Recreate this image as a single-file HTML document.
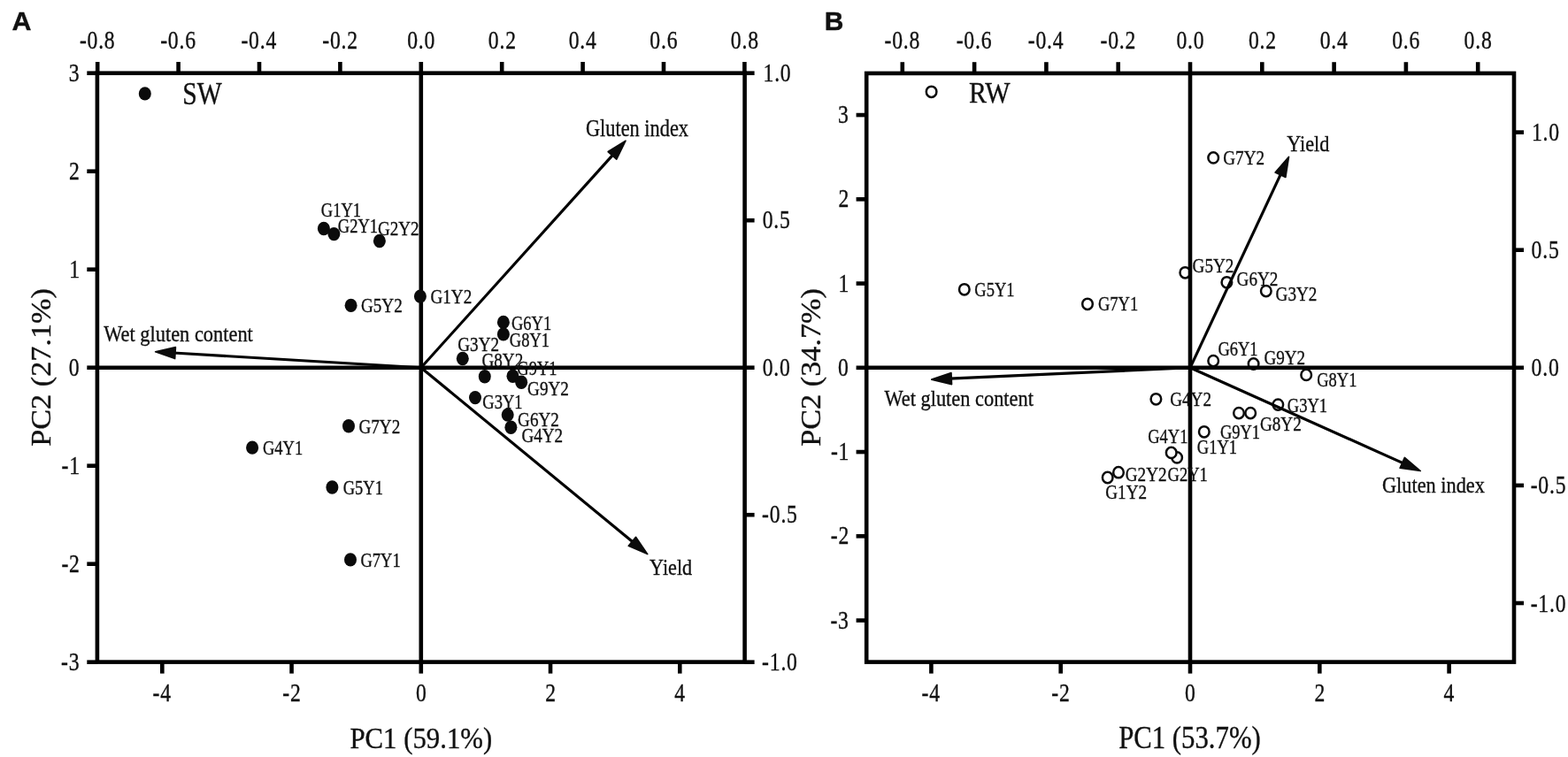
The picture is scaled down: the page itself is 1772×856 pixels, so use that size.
<!DOCTYPE html>
<html><head><meta charset="utf-8"><title>PCA biplots</title>
<style>html,body{margin:0;padding:0;background:#fff}svg{display:block}text{fill:#111;stroke:#111;stroke-width:0.35px}</style></head>
<body><svg width="1772" height="856" viewBox="0 0 1772 856">
<rect width="1772" height="856" fill="#fff"/>
<rect x="109.90" y="82.70" width="731.70" height="665.90" fill="none" stroke="#000" stroke-width="4.6"/>
<line x1="109.90" y1="415.70" x2="841.60" y2="415.70" stroke="#000" stroke-width="4.6" stroke-linecap="butt"/>
<line x1="475.80" y1="82.70" x2="475.80" y2="748.60" stroke="#000" stroke-width="4.6" stroke-linecap="butt"/>
<line x1="110.20" y1="82.70" x2="110.20" y2="70.00" stroke="#000" stroke-width="4.6" stroke-linecap="butt"/>
<line x1="201.60" y1="82.70" x2="201.60" y2="70.00" stroke="#000" stroke-width="4.6" stroke-linecap="butt"/>
<line x1="293.00" y1="82.70" x2="293.00" y2="70.00" stroke="#000" stroke-width="4.6" stroke-linecap="butt"/>
<line x1="384.40" y1="82.70" x2="384.40" y2="70.00" stroke="#000" stroke-width="4.6" stroke-linecap="butt"/>
<line x1="475.80" y1="82.70" x2="475.80" y2="70.00" stroke="#000" stroke-width="4.6" stroke-linecap="butt"/>
<line x1="567.20" y1="82.70" x2="567.20" y2="70.00" stroke="#000" stroke-width="4.6" stroke-linecap="butt"/>
<line x1="658.60" y1="82.70" x2="658.60" y2="70.00" stroke="#000" stroke-width="4.6" stroke-linecap="butt"/>
<line x1="750.00" y1="82.70" x2="750.00" y2="70.00" stroke="#000" stroke-width="4.6" stroke-linecap="butt"/>
<line x1="841.40" y1="82.70" x2="841.40" y2="70.00" stroke="#000" stroke-width="4.6" stroke-linecap="butt"/>
<line x1="183.32" y1="748.60" x2="183.32" y2="761.60" stroke="#000" stroke-width="4.6" stroke-linecap="butt"/>
<line x1="329.56" y1="748.60" x2="329.56" y2="761.60" stroke="#000" stroke-width="4.6" stroke-linecap="butt"/>
<line x1="475.80" y1="748.60" x2="475.80" y2="761.60" stroke="#000" stroke-width="4.6" stroke-linecap="butt"/>
<line x1="622.04" y1="748.60" x2="622.04" y2="761.60" stroke="#000" stroke-width="4.6" stroke-linecap="butt"/>
<line x1="768.28" y1="748.60" x2="768.28" y2="761.60" stroke="#000" stroke-width="4.6" stroke-linecap="butt"/>
<line x1="109.90" y1="82.70" x2="98.30" y2="82.70" stroke="#000" stroke-width="4.6" stroke-linecap="butt"/>
<line x1="109.90" y1="193.70" x2="98.30" y2="193.70" stroke="#000" stroke-width="4.6" stroke-linecap="butt"/>
<line x1="109.90" y1="304.70" x2="98.30" y2="304.70" stroke="#000" stroke-width="4.6" stroke-linecap="butt"/>
<line x1="109.90" y1="415.70" x2="98.30" y2="415.70" stroke="#000" stroke-width="4.6" stroke-linecap="butt"/>
<line x1="109.90" y1="526.70" x2="98.30" y2="526.70" stroke="#000" stroke-width="4.6" stroke-linecap="butt"/>
<line x1="109.90" y1="637.70" x2="98.30" y2="637.70" stroke="#000" stroke-width="4.6" stroke-linecap="butt"/>
<line x1="109.90" y1="748.70" x2="98.30" y2="748.70" stroke="#000" stroke-width="4.6" stroke-linecap="butt"/>
<line x1="841.60" y1="82.70" x2="852.60" y2="82.70" stroke="#000" stroke-width="4.6" stroke-linecap="butt"/>
<line x1="841.60" y1="249.20" x2="852.60" y2="249.20" stroke="#000" stroke-width="4.6" stroke-linecap="butt"/>
<line x1="841.60" y1="415.70" x2="852.60" y2="415.70" stroke="#000" stroke-width="4.6" stroke-linecap="butt"/>
<line x1="841.60" y1="582.20" x2="852.60" y2="582.20" stroke="#000" stroke-width="4.6" stroke-linecap="butt"/>
<line x1="841.60" y1="748.70" x2="852.60" y2="748.70" stroke="#000" stroke-width="4.6" stroke-linecap="butt"/>
<text transform="translate(89.89,54.81) scale(0.8200,1)" font-family="Liberation Serif, serif" font-size="28.89" letter-spacing="0.95">-0.8</text>
<text transform="translate(181.20,54.81) scale(0.8200,1)" font-family="Liberation Serif, serif" font-size="28.89" letter-spacing="0.95">-0.6</text>
<text transform="translate(272.42,54.81) scale(0.8200,1)" font-family="Liberation Serif, serif" font-size="28.89" letter-spacing="0.95">-0.4</text>
<text transform="translate(364.29,54.81) scale(0.8200,1)" font-family="Liberation Serif, serif" font-size="28.89" letter-spacing="0.95">-0.2</text>
<text transform="translate(460.22,54.81) scale(0.8200,1)" font-family="Liberation Serif, serif" font-size="28.89" letter-spacing="0.95">0.0</text>
<text transform="translate(551.82,54.81) scale(0.8200,1)" font-family="Liberation Serif, serif" font-size="28.89" letter-spacing="0.95">0.2</text>
<text transform="translate(642.75,54.81) scale(0.8200,1)" font-family="Liberation Serif, serif" font-size="28.89" letter-spacing="0.95">0.4</text>
<text transform="translate(734.33,54.81) scale(0.8200,1)" font-family="Liberation Serif, serif" font-size="28.89" letter-spacing="0.95">0.6</text>
<text transform="translate(825.82,54.81) scale(0.8200,1)" font-family="Liberation Serif, serif" font-size="28.89" letter-spacing="0.95">0.8</text>
<text transform="translate(172.50,792.81) scale(0.8200,1)" font-family="Liberation Serif, serif" font-size="28.89" letter-spacing="0.95">-4</text>
<text transform="translate(319.22,792.81) scale(0.8200,1)" font-family="Liberation Serif, serif" font-size="28.89" letter-spacing="0.95">-2</text>
<text transform="translate(469.88,792.81) scale(0.8200,1)" font-family="Liberation Serif, serif" font-size="28.89" letter-spacing="0.95">0</text>
<text transform="translate(616.27,792.81) scale(0.8200,1)" font-family="Liberation Serif, serif" font-size="28.89" letter-spacing="0.95">2</text>
<text transform="translate(762.30,792.81) scale(0.8200,1)" font-family="Liberation Serif, serif" font-size="28.89" letter-spacing="0.95">4</text>
<text transform="translate(77.70,91.86) scale(0.8200,1)" font-family="Liberation Serif, serif" font-size="28.89" letter-spacing="0.95">3</text>
<text transform="translate(78.06,202.86) scale(0.8200,1)" font-family="Liberation Serif, serif" font-size="28.89" letter-spacing="0.95">2</text>
<text transform="translate(78.18,313.86) scale(0.8200,1)" font-family="Liberation Serif, serif" font-size="28.89" letter-spacing="0.95">1</text>
<text transform="translate(77.64,424.86) scale(0.8200,1)" font-family="Liberation Serif, serif" font-size="28.89" letter-spacing="0.95">0</text>
<text transform="translate(69.52,535.86) scale(0.8200,1)" font-family="Liberation Serif, serif" font-size="28.89" letter-spacing="0.95">-1</text>
<text transform="translate(69.40,646.86) scale(0.8200,1)" font-family="Liberation Serif, serif" font-size="28.89" letter-spacing="0.95">-2</text>
<text transform="translate(69.05,757.86) scale(0.8200,1)" font-family="Liberation Serif, serif" font-size="28.89" letter-spacing="0.95">-3</text>
<text transform="translate(862.53,91.86) scale(0.8200,1)" font-family="Liberation Serif, serif" font-size="28.89" letter-spacing="0.95">1.0</text>
<text transform="translate(861.71,258.36) scale(0.8200,1)" font-family="Liberation Serif, serif" font-size="28.89" letter-spacing="0.95">0.5</text>
<text transform="translate(861.71,424.86) scale(0.8200,1)" font-family="Liberation Serif, serif" font-size="28.89" letter-spacing="0.95">0.0</text>
<text transform="translate(861.11,591.36) scale(0.8200,1)" font-family="Liberation Serif, serif" font-size="28.89" letter-spacing="0.95">-0.5</text>
<text transform="translate(861.11,757.86) scale(0.8200,1)" font-family="Liberation Serif, serif" font-size="28.89" letter-spacing="0.95">-1.0</text>
<line x1="475.80" y1="415.70" x2="693.30" y2="174.42" stroke="#000" stroke-width="3.15" stroke-linecap="butt"/>
<polygon points="707.03,159.19 696.79,180.25 687.14,171.55" fill="#0b0b0b" stroke="#0b0b0b" stroke-width="1.6" stroke-linejoin="round"/>
<line x1="475.80" y1="415.70" x2="196.06" y2="399.02" stroke="#000" stroke-width="3.15" stroke-linecap="butt"/>
<polygon points="175.60,397.80 198.44,392.65 197.67,405.62" fill="#0b0b0b" stroke="#0b0b0b" stroke-width="1.6" stroke-linejoin="round"/>
<line x1="475.80" y1="415.70" x2="715.94" y2="613.55" stroke="#000" stroke-width="3.15" stroke-linecap="butt"/>
<polygon points="731.77,626.58 710.27,617.29 718.53,607.26" fill="#0b0b0b" stroke="#0b0b0b" stroke-width="1.6" stroke-linejoin="round"/>
<ellipse cx="163.8" cy="105.9" rx="7.0" ry="7.7" fill="#0b0b0b"/>
<ellipse cx="365.9" cy="258.5" rx="7.0" ry="7.7" fill="#0b0b0b"/>
<ellipse cx="377.4" cy="264.6" rx="7.0" ry="7.7" fill="#0b0b0b"/>
<ellipse cx="428.9" cy="272.5" rx="7.0" ry="7.7" fill="#0b0b0b"/>
<ellipse cx="396.6" cy="345.4" rx="7.0" ry="7.7" fill="#0b0b0b"/>
<ellipse cx="474.9" cy="335.1" rx="7.0" ry="7.7" fill="#0b0b0b"/>
<ellipse cx="568.9" cy="364.4" rx="7.0" ry="7.7" fill="#0b0b0b"/>
<ellipse cx="568.9" cy="377.9" rx="7.0" ry="7.7" fill="#0b0b0b"/>
<ellipse cx="522.8" cy="405.5" rx="7.0" ry="7.7" fill="#0b0b0b"/>
<ellipse cx="547.8" cy="425.8" rx="7.0" ry="7.7" fill="#0b0b0b"/>
<ellipse cx="579.5" cy="425.2" rx="7.0" ry="7.7" fill="#0b0b0b"/>
<ellipse cx="589.2" cy="432.2" rx="7.0" ry="7.7" fill="#0b0b0b"/>
<ellipse cx="537" cy="449.6" rx="7.0" ry="7.7" fill="#0b0b0b"/>
<ellipse cx="573.7" cy="469.1" rx="7.0" ry="7.7" fill="#0b0b0b"/>
<ellipse cx="577.4" cy="483.2" rx="7.0" ry="7.7" fill="#0b0b0b"/>
<ellipse cx="394" cy="481.8" rx="7.0" ry="7.7" fill="#0b0b0b"/>
<ellipse cx="285.1" cy="506.1" rx="7.0" ry="7.7" fill="#0b0b0b"/>
<ellipse cx="375.4" cy="551" rx="7.0" ry="7.7" fill="#0b0b0b"/>
<ellipse cx="396" cy="632.9" rx="7.0" ry="7.7" fill="#0b0b0b"/>
<text transform="translate(362.81,244.72) scale(0.8135,1)" font-family="Liberation Serif, serif" font-size="22.75">G1Y1</text>
<text transform="translate(381.81,263.42) scale(0.8135,1)" font-family="Liberation Serif, serif" font-size="22.75">G2Y1</text>
<text transform="translate(426.88,265.72) scale(0.8417,1)" font-family="Liberation Serif, serif" font-size="22.75">G2Y2</text>
<text transform="translate(407.98,353.42) scale(0.8417,1)" font-family="Liberation Serif, serif" font-size="22.75">G5Y2</text>
<text transform="translate(486.48,343.22) scale(0.8417,1)" font-family="Liberation Serif, serif" font-size="22.75">G1Y2</text>
<text transform="translate(578.01,372.52) scale(0.8135,1)" font-family="Liberation Serif, serif" font-size="22.75">G6Y1</text>
<text transform="translate(575.81,391.52) scale(0.8135,1)" font-family="Liberation Serif, serif" font-size="22.75">G8Y1</text>
<text transform="translate(517.28,396.92) scale(0.8417,1)" font-family="Liberation Serif, serif" font-size="22.75">G3Y2</text>
<text transform="translate(544.48,414.62) scale(0.8417,1)" font-family="Liberation Serif, serif" font-size="22.75">G8Y2</text>
<text transform="translate(584.31,423.92) scale(0.8135,1)" font-family="Liberation Serif, serif" font-size="22.75">G9Y1</text>
<text transform="translate(596.08,447.32) scale(0.8417,1)" font-family="Liberation Serif, serif" font-size="22.75">G9Y2</text>
<text transform="translate(545.31,462.02) scale(0.8135,1)" font-family="Liberation Serif, serif" font-size="22.75">G3Y1</text>
<text transform="translate(585.08,481.52) scale(0.8417,1)" font-family="Liberation Serif, serif" font-size="22.75">G6Y2</text>
<text transform="translate(589.38,500.12) scale(0.8417,1)" font-family="Liberation Serif, serif" font-size="22.75">G4Y2</text>
<text transform="translate(405.48,490.02) scale(0.8417,1)" font-family="Liberation Serif, serif" font-size="22.75">G7Y2</text>
<text transform="translate(297.01,514.22) scale(0.8135,1)" font-family="Liberation Serif, serif" font-size="22.75">G4Y1</text>
<text transform="translate(387.71,558.92) scale(0.8135,1)" font-family="Liberation Serif, serif" font-size="22.75">G5Y1</text>
<text transform="translate(407.51,640.62) scale(0.8135,1)" font-family="Liberation Serif, serif" font-size="22.75">G7Y1</text>
<text transform="translate(206.30,117.55) scale(0.8521,1)" font-family="Liberation Serif, serif" font-size="34.80">SW</text>
<text transform="translate(661.91,154.10) scale(0.8227,1)" font-family="Liberation Serif, serif" font-size="27.19">Gluten index</text>
<text transform="translate(117.20,386.42) scale(0.8782,1)" font-family="Liberation Serif, serif" font-size="25.52">Wet gluten content</text>
<text transform="translate(734.08,649.60) scale(0.8474,1)" font-family="Liberation Serif, serif" font-size="26.19">Yield</text>
<text transform="translate(395.45,845.70) scale(0.9006,1)" font-family="Liberation Serif, serif" font-size="34.20">PC1 (59.1%)</text>
<text transform="translate(57.20,504.74) rotate(-90) scale(1.1047,1)" font-family="Liberation Serif, serif" font-size="30.99">PC2 (27.1%)</text>
<text transform="translate(13.44,34.10) scale(1.0261,1)" font-family="Liberation Sans, sans-serif" font-size="29.67" font-weight="bold">A</text>
<ellipse cx="1052.6" cy="103.8" rx="5.8" ry="6.15" fill="#fff" stroke="#0b0b0b" stroke-width="2.5"/>
<ellipse cx="1371.2" cy="178.4" rx="5.8" ry="6.15" fill="#fff" stroke="#0b0b0b" stroke-width="2.5"/>
<ellipse cx="1339.3" cy="308.3" rx="5.8" ry="6.15" fill="#fff" stroke="#0b0b0b" stroke-width="2.5"/>
<ellipse cx="1386.4" cy="319.3" rx="5.8" ry="6.15" fill="#fff" stroke="#0b0b0b" stroke-width="2.5"/>
<ellipse cx="1430.8" cy="329.1" rx="5.8" ry="6.15" fill="#fff" stroke="#0b0b0b" stroke-width="2.5"/>
<ellipse cx="1089.8" cy="327.3" rx="5.8" ry="6.15" fill="#fff" stroke="#0b0b0b" stroke-width="2.5"/>
<ellipse cx="1229" cy="343.8" rx="5.8" ry="6.15" fill="#fff" stroke="#0b0b0b" stroke-width="2.5"/>
<ellipse cx="1371.2" cy="408.1" rx="5.8" ry="6.15" fill="#fff" stroke="#0b0b0b" stroke-width="2.5"/>
<ellipse cx="1416.6" cy="411.5" rx="5.8" ry="6.15" fill="#fff" stroke="#0b0b0b" stroke-width="2.5"/>
<ellipse cx="1476.2" cy="423.9" rx="5.8" ry="6.15" fill="#fff" stroke="#0b0b0b" stroke-width="2.5"/>
<ellipse cx="1306.4" cy="451.3" rx="5.8" ry="6.15" fill="#fff" stroke="#0b0b0b" stroke-width="2.5"/>
<ellipse cx="1444.3" cy="457.6" rx="5.8" ry="6.15" fill="#fff" stroke="#0b0b0b" stroke-width="2.5"/>
<ellipse cx="1400" cy="467.1" rx="5.8" ry="6.15" fill="#fff" stroke="#0b0b0b" stroke-width="2.5"/>
<ellipse cx="1413.2" cy="467.1" rx="5.8" ry="6.15" fill="#fff" stroke="#0b0b0b" stroke-width="2.5"/>
<ellipse cx="1360.8" cy="488.3" rx="5.8" ry="6.15" fill="#fff" stroke="#0b0b0b" stroke-width="2.5"/>
<ellipse cx="1330.1" cy="517.4" rx="5.8" ry="6.15" fill="#fff" stroke="#0b0b0b" stroke-width="2.5"/>
<ellipse cx="1264" cy="534.2" rx="5.8" ry="6.15" fill="#fff" stroke="#0b0b0b" stroke-width="2.5"/>
<ellipse cx="1251.7" cy="540" rx="5.8" ry="6.15" fill="#fff" stroke="#0b0b0b" stroke-width="2.5"/>
<ellipse cx="1323.7" cy="511.9" rx="5.8" ry="6.15" fill="#fff" stroke="#0b0b0b" stroke-width="2.5"/>
<rect x="979.20" y="82.90" width="731.80" height="665.70" fill="none" stroke="#000" stroke-width="4.6"/>
<line x1="979.20" y1="415.80" x2="1711.00" y2="415.80" stroke="#000" stroke-width="4.6" stroke-linecap="butt"/>
<line x1="1345.00" y1="82.90" x2="1345.00" y2="748.60" stroke="#000" stroke-width="4.6" stroke-linecap="butt"/>
<line x1="1019.80" y1="82.90" x2="1019.80" y2="70.20" stroke="#000" stroke-width="4.6" stroke-linecap="butt"/>
<line x1="1101.10" y1="82.90" x2="1101.10" y2="70.20" stroke="#000" stroke-width="4.6" stroke-linecap="butt"/>
<line x1="1182.40" y1="82.90" x2="1182.40" y2="70.20" stroke="#000" stroke-width="4.6" stroke-linecap="butt"/>
<line x1="1263.70" y1="82.90" x2="1263.70" y2="70.20" stroke="#000" stroke-width="4.6" stroke-linecap="butt"/>
<line x1="1345.00" y1="82.90" x2="1345.00" y2="70.20" stroke="#000" stroke-width="4.6" stroke-linecap="butt"/>
<line x1="1426.30" y1="82.90" x2="1426.30" y2="70.20" stroke="#000" stroke-width="4.6" stroke-linecap="butt"/>
<line x1="1507.60" y1="82.90" x2="1507.60" y2="70.20" stroke="#000" stroke-width="4.6" stroke-linecap="butt"/>
<line x1="1588.90" y1="82.90" x2="1588.90" y2="70.20" stroke="#000" stroke-width="4.6" stroke-linecap="butt"/>
<line x1="1670.20" y1="82.90" x2="1670.20" y2="70.20" stroke="#000" stroke-width="4.6" stroke-linecap="butt"/>
<line x1="1052.40" y1="748.60" x2="1052.40" y2="761.60" stroke="#000" stroke-width="4.6" stroke-linecap="butt"/>
<line x1="1198.70" y1="748.60" x2="1198.70" y2="761.60" stroke="#000" stroke-width="4.6" stroke-linecap="butt"/>
<line x1="1345.00" y1="748.60" x2="1345.00" y2="761.60" stroke="#000" stroke-width="4.6" stroke-linecap="butt"/>
<line x1="1491.30" y1="748.60" x2="1491.30" y2="761.60" stroke="#000" stroke-width="4.6" stroke-linecap="butt"/>
<line x1="1637.60" y1="748.60" x2="1637.60" y2="761.60" stroke="#000" stroke-width="4.6" stroke-linecap="butt"/>
<line x1="979.20" y1="130.05" x2="967.60" y2="130.05" stroke="#000" stroke-width="4.6" stroke-linecap="butt"/>
<line x1="979.20" y1="225.30" x2="967.60" y2="225.30" stroke="#000" stroke-width="4.6" stroke-linecap="butt"/>
<line x1="979.20" y1="320.55" x2="967.60" y2="320.55" stroke="#000" stroke-width="4.6" stroke-linecap="butt"/>
<line x1="979.20" y1="415.80" x2="967.60" y2="415.80" stroke="#000" stroke-width="4.6" stroke-linecap="butt"/>
<line x1="979.20" y1="511.05" x2="967.60" y2="511.05" stroke="#000" stroke-width="4.6" stroke-linecap="butt"/>
<line x1="979.20" y1="606.30" x2="967.60" y2="606.30" stroke="#000" stroke-width="4.6" stroke-linecap="butt"/>
<line x1="979.20" y1="701.55" x2="967.60" y2="701.55" stroke="#000" stroke-width="4.6" stroke-linecap="butt"/>
<line x1="1711.00" y1="149.60" x2="1722.00" y2="149.60" stroke="#000" stroke-width="4.6" stroke-linecap="butt"/>
<line x1="1711.00" y1="282.70" x2="1722.00" y2="282.70" stroke="#000" stroke-width="4.6" stroke-linecap="butt"/>
<line x1="1711.00" y1="415.80" x2="1722.00" y2="415.80" stroke="#000" stroke-width="4.6" stroke-linecap="butt"/>
<line x1="1711.00" y1="548.90" x2="1722.00" y2="548.90" stroke="#000" stroke-width="4.6" stroke-linecap="butt"/>
<line x1="1711.00" y1="682.00" x2="1722.00" y2="682.00" stroke="#000" stroke-width="4.6" stroke-linecap="butt"/>
<text transform="translate(999.49,54.81) scale(0.8200,1)" font-family="Liberation Serif, serif" font-size="28.89" letter-spacing="0.95">-0.8</text>
<text transform="translate(1080.70,54.81) scale(0.8200,1)" font-family="Liberation Serif, serif" font-size="28.89" letter-spacing="0.95">-0.6</text>
<text transform="translate(1161.82,54.81) scale(0.8200,1)" font-family="Liberation Serif, serif" font-size="28.89" letter-spacing="0.95">-0.4</text>
<text transform="translate(1243.59,54.81) scale(0.8200,1)" font-family="Liberation Serif, serif" font-size="28.89" letter-spacing="0.95">-0.2</text>
<text transform="translate(1329.42,54.81) scale(0.8200,1)" font-family="Liberation Serif, serif" font-size="28.89" letter-spacing="0.95">0.0</text>
<text transform="translate(1410.92,54.81) scale(0.8200,1)" font-family="Liberation Serif, serif" font-size="28.89" letter-spacing="0.95">0.2</text>
<text transform="translate(1491.75,54.81) scale(0.8200,1)" font-family="Liberation Serif, serif" font-size="28.89" letter-spacing="0.95">0.4</text>
<text transform="translate(1573.23,54.81) scale(0.8200,1)" font-family="Liberation Serif, serif" font-size="28.89" letter-spacing="0.95">0.6</text>
<text transform="translate(1654.62,54.81) scale(0.8200,1)" font-family="Liberation Serif, serif" font-size="28.89" letter-spacing="0.95">0.8</text>
<text transform="translate(1041.58,792.81) scale(0.8200,1)" font-family="Liberation Serif, serif" font-size="28.89" letter-spacing="0.95">-4</text>
<text transform="translate(1188.36,792.81) scale(0.8200,1)" font-family="Liberation Serif, serif" font-size="28.89" letter-spacing="0.95">-2</text>
<text transform="translate(1339.08,792.81) scale(0.8200,1)" font-family="Liberation Serif, serif" font-size="28.89" letter-spacing="0.95">0</text>
<text transform="translate(1485.53,792.81) scale(0.8200,1)" font-family="Liberation Serif, serif" font-size="28.89" letter-spacing="0.95">2</text>
<text transform="translate(1631.62,792.81) scale(0.8200,1)" font-family="Liberation Serif, serif" font-size="28.89" letter-spacing="0.95">4</text>
<text transform="translate(947.10,139.21) scale(0.8200,1)" font-family="Liberation Serif, serif" font-size="28.89" letter-spacing="0.95">3</text>
<text transform="translate(947.46,234.46) scale(0.8200,1)" font-family="Liberation Serif, serif" font-size="28.89" letter-spacing="0.95">2</text>
<text transform="translate(947.58,329.71) scale(0.8200,1)" font-family="Liberation Serif, serif" font-size="28.89" letter-spacing="0.95">1</text>
<text transform="translate(947.04,424.96) scale(0.8200,1)" font-family="Liberation Serif, serif" font-size="28.89" letter-spacing="0.95">0</text>
<text transform="translate(938.92,520.21) scale(0.8200,1)" font-family="Liberation Serif, serif" font-size="28.89" letter-spacing="0.95">-1</text>
<text transform="translate(938.80,615.46) scale(0.8200,1)" font-family="Liberation Serif, serif" font-size="28.89" letter-spacing="0.95">-2</text>
<text transform="translate(938.45,710.71) scale(0.8200,1)" font-family="Liberation Serif, serif" font-size="28.89" letter-spacing="0.95">-3</text>
<text transform="translate(1730.93,159.16) scale(0.8200,1)" font-family="Liberation Serif, serif" font-size="28.89" letter-spacing="0.95">1.0</text>
<text transform="translate(1730.61,292.26) scale(0.8200,1)" font-family="Liberation Serif, serif" font-size="28.89" letter-spacing="0.95">0.5</text>
<text transform="translate(1730.61,425.36) scale(0.8200,1)" font-family="Liberation Serif, serif" font-size="28.89" letter-spacing="0.95">0.0</text>
<text transform="translate(1729.71,558.46) scale(0.8200,1)" font-family="Liberation Serif, serif" font-size="28.89" letter-spacing="0.95">-0.5</text>
<text transform="translate(1729.71,691.56) scale(0.8200,1)" font-family="Liberation Serif, serif" font-size="28.89" letter-spacing="0.95">-1.0</text>
<line x1="1345.00" y1="415.80" x2="1447.84" y2="195.92" stroke="#000" stroke-width="3.15" stroke-linecap="butt"/>
<polygon points="1456.52,177.35 1452.88,200.48 1441.10,194.98" fill="#0b0b0b" stroke="#0b0b0b" stroke-width="1.6" stroke-linejoin="round"/>
<line x1="1345.00" y1="415.80" x2="1586.54" y2="524.15" stroke="#000" stroke-width="3.15" stroke-linecap="butt"/>
<polygon points="1605.24,532.55 1582.05,529.27 1587.37,517.41" fill="#0b0b0b" stroke="#0b0b0b" stroke-width="1.6" stroke-linejoin="round"/>
<line x1="1345.00" y1="415.80" x2="1073.28" y2="428.19" stroke="#000" stroke-width="3.15" stroke-linecap="butt"/>
<polygon points="1052.80,429.13 1074.98,421.61 1075.57,434.60" fill="#0b0b0b" stroke="#0b0b0b" stroke-width="1.6" stroke-linejoin="round"/>
<text transform="translate(1382.28,186.32) scale(0.8417,1)" font-family="Liberation Serif, serif" font-size="22.75">G7Y2</text>
<text transform="translate(1347.58,307.72) scale(0.8417,1)" font-family="Liberation Serif, serif" font-size="22.75">G5Y2</text>
<text transform="translate(1397.58,322.62) scale(0.8417,1)" font-family="Liberation Serif, serif" font-size="22.75">G6Y2</text>
<text transform="translate(1441.58,339.62) scale(0.8417,1)" font-family="Liberation Serif, serif" font-size="22.75">G3Y2</text>
<text transform="translate(1101.31,335.12) scale(0.8135,1)" font-family="Liberation Serif, serif" font-size="22.75">G5Y1</text>
<text transform="translate(1241.01,351.22) scale(0.8135,1)" font-family="Liberation Serif, serif" font-size="22.75">G7Y1</text>
<text transform="translate(1376.41,402.32) scale(0.8135,1)" font-family="Liberation Serif, serif" font-size="22.75">G6Y1</text>
<text transform="translate(1428.38,412.42) scale(0.8417,1)" font-family="Liberation Serif, serif" font-size="22.75">G9Y2</text>
<text transform="translate(1488.21,437.12) scale(0.8135,1)" font-family="Liberation Serif, serif" font-size="22.75">G8Y1</text>
<text transform="translate(1322.18,459.12) scale(0.8417,1)" font-family="Liberation Serif, serif" font-size="22.75">G4Y2</text>
<text transform="translate(1454.81,466.22) scale(0.8135,1)" font-family="Liberation Serif, serif" font-size="22.75">G3Y1</text>
<text transform="translate(1378.91,496.02) scale(0.8135,1)" font-family="Liberation Serif, serif" font-size="22.75">G9Y1</text>
<text transform="translate(1423.98,487.22) scale(0.8417,1)" font-family="Liberation Serif, serif" font-size="22.75">G8Y2</text>
<text transform="translate(1352.81,513.02) scale(0.8135,1)" font-family="Liberation Serif, serif" font-size="22.75">G1Y1</text>
<text transform="translate(1297.21,501.32) scale(0.8135,1)" font-family="Liberation Serif, serif" font-size="22.75">G4Y1</text>
<text transform="translate(1271.78,544.12) scale(0.8417,1)" font-family="Liberation Serif, serif" font-size="22.75">G2Y2</text>
<text transform="translate(1319.61,544.12) scale(0.8135,1)" font-family="Liberation Serif, serif" font-size="22.75">G2Y1</text>
<text transform="translate(1249.28,563.92) scale(0.8417,1)" font-family="Liberation Serif, serif" font-size="22.75">G1Y2</text>
<text transform="translate(1094.88,116.20) scale(0.9135,1)" font-family="Liberation Serif, serif" font-size="32.82">RW</text>
<text transform="translate(1454.18,171.30) scale(0.8864,1)" font-family="Liberation Serif, serif" font-size="25.04">Yield</text>
<text transform="translate(1562.01,557.20) scale(0.9123,1)" font-family="Liberation Serif, serif" font-size="24.46">Gluten index</text>
<text transform="translate(999.50,458.93) scale(0.8976,1)" font-family="Liberation Serif, serif" font-size="24.93">Wet gluten content</text>
<text transform="translate(1264.15,845.70) scale(0.8804,1)" font-family="Liberation Serif, serif" font-size="34.96">PC1 (53.7%)</text>
<text transform="translate(927.20,504.74) rotate(-90) scale(1.1047,1)" font-family="Liberation Serif, serif" font-size="30.99">PC2 (34.7%)</text>
<text transform="translate(931.68,33.80) scale(1.0261,1)" font-family="Liberation Sans, sans-serif" font-size="29.24" font-weight="bold">B</text>
</svg></body></html>
